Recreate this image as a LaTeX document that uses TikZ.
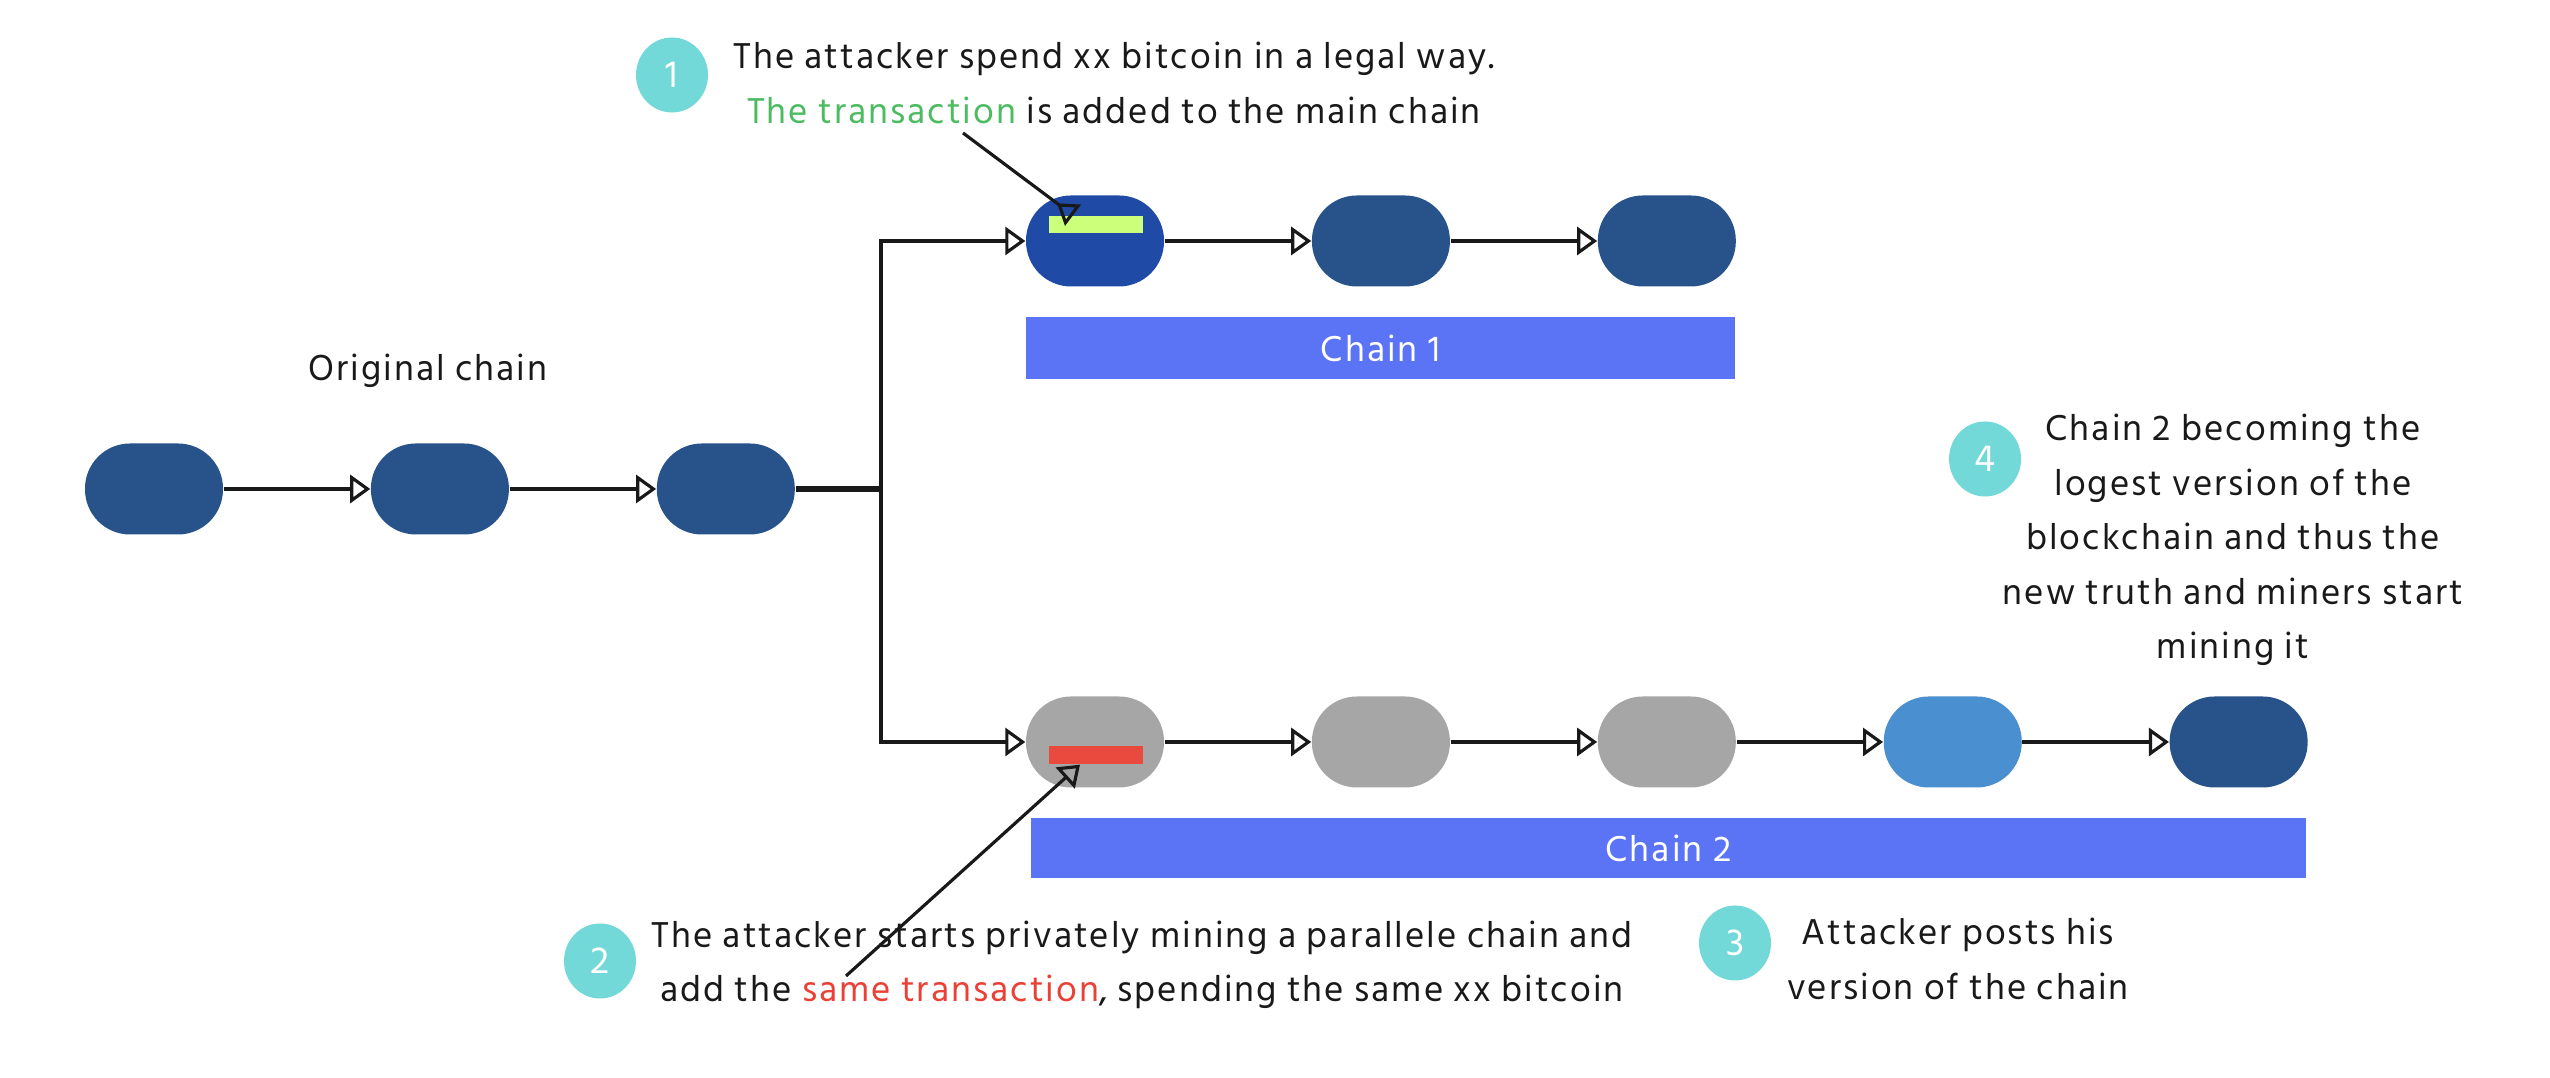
\documentclass[tikz,border=0pt]{standalone}
\usepackage{fontspec}
\newfontfamily\hind[LetterSpace=5.5]{Hind Siliguri}
\usepackage{tikz}
\usepackage{xcolor}
\definecolor{blkdark}{RGB}{39, 83, 138}
\definecolor{blkroyal}{RGB}{31, 74, 166}
\definecolor{blkgrey}{RGB}{166, 166, 166}
\definecolor{blklight}{RGB}{74, 143, 207}
\definecolor{barblue}{RGB}{91, 115, 245}
\definecolor{numteal}{RGB}{114, 216, 216}
\definecolor{txgreen}{RGB}{204, 255, 122}
\definecolor{txred}{RGB}{234, 74, 62}
\definecolor{wordgreen}{RGB}{77, 187, 98}
\definecolor{wordred}{RGB}{234, 64, 54}
\usetikzlibrary{arrows.meta, positioning, shapes.geometric}

\tikzset{
  blk/.style={fill=blkdark, rounded corners=0.45cm, minimum width=1.38cm, minimum height=0.91cm, inner sep=0pt},
  bar/.style={fill=barblue, text=white, inner sep=0pt, font=\hind\fontsize{10.5}{12}\selectfont},
  num/.style={ellipse, fill=numteal, text=white, minimum width=0.72cm, minimum height=0.75cm, inner sep=0pt, font=\hind\fontsize{11}{12}\selectfont},
  note/.style={align=center, text=black!90, font=\hind\fontsize{10.5}{15.5}\selectfont},
  flow/.style={-{Triangle[open, length=0.2cm, width=0.28cm]}, line width=0.9pt, black!90},
}

\begin{document}
\begin{tikzpicture}[node distance=1.465cm]
  \useasboundingbox[fill=white] (0,0) rectangle (25.5,10.78);

  % original chain
  \node[blk] (o1) at (1.54,5.89) {};
  \node[blk, right=of o1] (o2) {};
  \node[blk, right=of o2] (o3) {};
  \node[note] (orig) at (4.28,7.07) {Original chain};

  % chain 1
  \node[blk, fill=blkroyal] (c1a) at (10.95,8.37) {};
  \node[blk, right=of c1a] (c1b) {};
  \node[blk, right=of c1b] (c1c) {};
  \node[fill=txgreen, minimum width=0.94cm, minimum height=0.17cm, inner sep=0pt] (tx1) at (10.96,8.535) {};
  \node[bar, minimum width=7.09cm, minimum height=0.62cm] (bar1) at (13.805,7.30) {Chain 1};

  % chain 2
  \node[blk, fill=blkgrey] (c2a) at (10.95,3.36) {};
  \node[blk, fill=blkgrey, right=of c2a] (c2b) {};
  \node[blk, fill=blkgrey, right=of c2b] (c2c) {};
  \node[blk, fill=blklight, right=of c2c] (c2d) {};
  \node[blk, right=of c2d] (c2e) {};
  \node[fill=txred, minimum width=0.94cm, minimum height=0.18cm, inner sep=0pt] (tx2) at (10.96,3.23) {};
  \node[bar, minimum width=12.75cm, minimum height=0.60cm] (bar2) at (16.685,2.30) {Chain 2};

  % fork
  \coordinate (jn) at (8.81,5.89);
  \draw[line width=1.8pt, black!90] (o3.east) -- (jn);
  \draw[flow] (o1) -- (o2);
  \draw[flow] (o2) -- (o3);
  \draw[flow] (jn) |- (c1a.west);
  \draw[flow] (jn) |- (c2a.west);
  \draw[flow] (c1a) -- (c1b);
  \draw[flow] (c1b) -- (c1c);
  \draw[flow] (c2a) -- (c2b);
  \draw[flow] (c2b) -- (c2c);
  \draw[flow] (c2c) -- (c2d);
  \draw[flow] (c2d) -- (c2e);

  % steps
  \node[num] (n1) at (6.72,10.03) {1};
  \node[note] (t1) at (11.14,9.95) {The attacker spend xx bitcoin in a legal way.\\
    \textcolor{wordgreen}{The transaction} is added to the main chain};
  \node[num] (n2) at (6.00,1.17) {2};
  \node[note] (t2) at (11.42,1.13) {The attacker starts privately mining a parallele chain and\\
    add the \textcolor{wordred}{same transaction}, spending the same xx bitcoin};
  \node[num] (n3) at (17.35,1.35) {3};
  \node[note] (t3) at (19.58,1.19) {Attacker posts his\\version of the chain};
  \node[num] (n4) at (19.85,6.19) {4};
  \node[note] (t4) at (22.33,5.38) {Chain 2 becoming the\\logest version of the\\blockchain and thus the\\new truth and miners start\\mining it};

  % callouts
  \coordinate (p1) at (9.63,9.45);
  \coordinate (p2) at (8.46,1.02);
  \draw[-{Triangle[open, reversed, length=0.2cm, width=0.26cm]}, line width=0.9pt, black!90] (p1) -- ([xshift=-0.23cm]tx1.north);
  \draw[flow] (p2) -- ([xshift=-0.16cm]tx2.south);
\end{tikzpicture}
\end{document}
